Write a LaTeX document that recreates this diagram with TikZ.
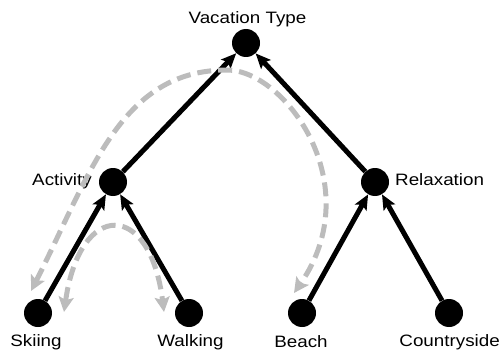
\documentclass[tikz,border=0pt]{standalone}
\usepackage{fontspec}
\setmainfont[FakeStretch=1.14]{Liberation Sans}
\usetikzlibrary{arrows.meta}
\definecolor{flowgray}{RGB}{188,188,188}
\begin{document}
\begin{tikzpicture}[x=1pt,y=-1pt,
  var/.style={circle,fill=black,inner sep=0pt,minimum size=28pt},
  lbl/.style={inner sep=0pt,font=\fontsize{16.5}{19}\selectfont},
  edge/.style={line width=5pt,-{Stealth[length=15pt,width=13pt,inset=3pt]}},
  flow/.style={flowgray,line width=5pt,dash pattern=on 14pt off 7pt,
    {Stealth[length=15pt,width=15pt,inset=3pt]}-{Stealth[length=15pt,width=15pt,inset=3pt]}}]
  \useasboundingbox (0,0) rectangle (501,353);

  % variables
  \node[var] (vac) at (246,43) {};
  \node[var] (act) at (113,182) {};
  \node[var] (rel) at (375,182) {};
  \node[var] (ski) at (38,313) {};
  \node[var] (wal) at (189,313) {};
  \node[var] (bea) at (302,313) {};
  \node[var] (cou) at (449,313) {};

  % labels
  \node[lbl,anchor=base] (lvac) at (247.5,24) {Vacation Type};
  \node[lbl,anchor=base east] (lact) at (92,185) {Activity};
  \node[lbl,anchor=base west] (lrel) at (395,185) {Relaxation};
  \node[lbl,anchor=base] (lski) at (36,346) {Skiing};
  \node[lbl,anchor=base] (lwal) at (190.5,346) {Walking};
  \node[lbl,anchor=base] (lbea) at (301,347) {Beach};
  \node[lbl,anchor=base east] (lcou) at (500,346) {Countryside};

  % dependency edges
  \draw[edge] (act) -- (vac);
  \draw[edge] (rel) -- (vac);
  \draw[edge] (ski) -- (act);
  \draw[edge] (wal) -- (act);
  \draw[edge] (bea) -- (rel);
  \draw[edge] (cou) -- (rel);

  % flow paths
  \coordinate (f1a) at (31,291);
  \coordinate (f1b) at (294,293);
  \coordinate (f2a) at (64,312);
  \coordinate (f2b) at (164,312);
  \draw[flow] (f1a) .. controls (90.5,174) and (120,70) .. (227,70)
                    .. controls (285,70) and (369,185) .. (f1b);
  \draw[flow] (f2a) .. controls (80,200) and (150,200) .. (f2b);
\end{tikzpicture}
\end{document}
